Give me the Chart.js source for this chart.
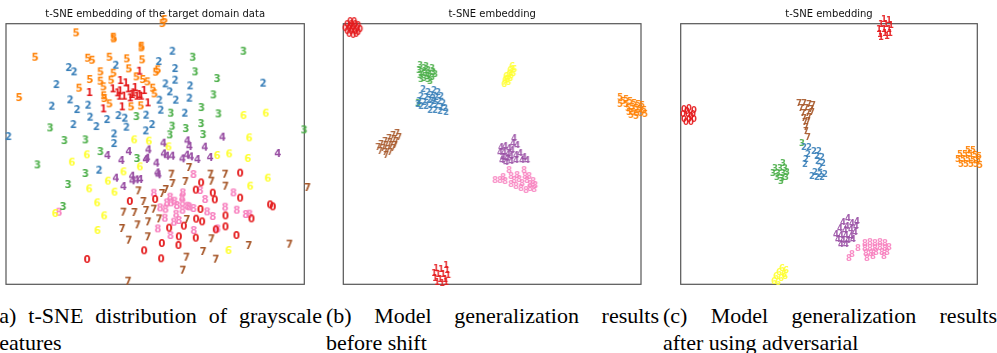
<!DOCTYPE html>
<html><head><meta charset="utf-8">
<script src="https://cdn.jsdelivr.net/npm/chart.js@4/dist/chart.umd.min.js"></script>
<style>
html,body{margin:0;padding:0;background:#fff;width:997px;height:353px;overflow:hidden;position:relative}
canvas{position:absolute;top:0}
.cap{position:absolute;top:302px;font-family:"Liberation Serif","Times New Roman",serif;font-size:22px;line-height:27px;color:#000}
.l1{text-align:justify;text-align-last:justify}
</style></head><body>
<canvas id="pa" width="330" height="300" style="left:0px"></canvas>
<canvas id="pb" width="330" height="300" style="left:330px"></canvas>
<canvas id="pc" width="332" height="300" style="left:665px"></canvas>
<div class="cap" style="left:-8px;width:330px"><div class="l1">(a) t-SNE distribution of grayscale</div><div>features</div></div>
<div class="cap" style="left:326px;width:333px"><div class="l1">(b) Model generalization results</div><div>before shift</div></div>
<div class="cap" style="left:663px;width:334px"><div class="l1">(c) Model generalization results</div><div>after using adversarial</div></div>
<script>
// ---- Titles ----
const TITLE_A = "t-SNE embedding of the target domain data";
const TITLE_B = "t-SNE embedding";
const TITLE_C = "t-SNE embedding";
// Set1 colours per digit class 0..8
const DIGIT_COLORS = ["#e41a1c","#e41a1c","#377eb8","#4daf4a","#984ea3","#ff7f00","#ffff33","#a65628","#f781bf"];

// ---- Panel (a): target domain features, per digit [x, y] ----
const A0 = [[25.5,-5.9],[13.8,-8.8],[12.2,-11.0],[17.3,-11.9],[25.5,-13.4],[-7.6,-14.4],[0.0,-13.8],[17.9,-13.9],[13.6,-16.8],[34.5,-15.4],[35.3,-16.0],[12.3,-19.7],[14.1,-20.5],[21.1,-18.7],[28.9,-19.6],[4.2,-22.4],[8.6,-21.8],[18.2,-22.9],[21.1,-22.0],[7.1,-25.0],[12.2,-25.4],[24.4,-24.6],[2.0,-27.0],[7.0,-27.6],[-3.3,-29.2],[-20.4,-31.8],[1.8,-31.6]];
const A1 = [[-4.7,24.7],[-10.4,21.9],[-8.8,21.2],[-12.7,19.4],[-10.5,18.8],[-8.1,19.4],[-6.0,19.8],[-3.3,18.9],[-19.7,18.3],[-10.7,17.2],[-9.3,17.2],[-7.5,16.7],[-6.5,18.2],[-5.5,17.2],[-4.7,17.7],[-15.5,13.4],[-9.9,14.0],[-2.2,15.2],[-7.0,17.7],[-4.2,17.2],[-11.3,18.2]];
const A2 = [[5.2,30.7],[1.1,27.6],[-11.8,26.5],[-25.9,25.8],[-24.3,24.5],[6.0,25.5],[3.1,20.9],[6.0,22.0],[-29.6,20.7],[10.5,20.3],[32.4,21.1],[4.4,18.5],[-25.5,16.1],[1.3,16.0],[6.2,16.0],[10.3,16.6],[-31.0,14.2],[-20.1,14.5],[-23.4,13.2],[1.7,13.0],[8.9,12.1],[-19.5,10.9],[-14.4,10.2],[-11.0,11.4],[-9.1,10.6],[-2.7,11.5],[-24.5,8.7],[-17.6,8.1],[-8.6,7.9],[-0.9,8.7],[-2.8,6.8],[-44.0,5.1],[-12.3,5.9],[-12.3,3.0],[-16.8,-5.0]];
const A3 = [[26.5,30.7],[11.3,28.9],[12.0,24.5],[18.6,22.5],[17.5,17.6],[4.7,12.1],[13.9,13.8],[19.0,11.9],[-5.6,11.1],[5.1,8.2],[9.2,7.5],[13.8,9.0],[-31.5,7.7],[44.7,7.1],[-27.2,3.9],[-20.9,4.1],[4.4,5.6],[14.4,5.7],[-16.4,0.6],[-35.3,-3.4],[-5.4,-1.5],[-20.9,-6.0],[-26.1,-9.3],[-27.6,-15.9]];
const A4 = [[2.5,3.1],[9.7,3.8],[20.2,4.9],[10.3,2.1],[14.9,1.9],[-14.3,-0.6],[-7.9,0.6],[-2.0,1.1],[2.6,-0.1],[3.5,-0.8],[5.1,-0.8],[8.2,-1.6],[9.5,-0.5],[10.7,-1.0],[12.7,-1.8],[16.5,-1.2],[36.8,0.0],[-10.1,-2.1],[-2.8,-1.8],[-2.4,-1.4],[0.4,-2.9],[0.7,-5.8],[1.0,-6.4],[-11.8,-7.4],[-6.9,-6.8],[-6.8,-8.2],[-5.6,-7.9],[-4.5,-7.8],[-9.5,-9.9]];
const A5 = [[2.2,39.0],[2.8,40.2],[-23.7,36.2],[-12.5,34.9],[-12.4,34.4],[-4.1,32.2],[-4.1,31.7],[-36.0,28.9],[-20.2,28.6],[-18.9,28.0],[-13.7,28.9],[-8.5,28.4],[-3.9,28.1],[-16.4,24.5],[-12.5,24.1],[-7.9,25.4],[0.2,24.4],[0.8,25.1],[-19.6,22.2],[-16.4,21.7],[-13.2,22.0],[-5.6,23.0],[-3.7,22.2],[-2.3,21.5],[-22.8,19.6],[-15.5,20.0],[-0.7,19.6],[-40.8,16.8],[-15.4,17.3],[-15.2,16.5],[-0.2,17.9],[-13.7,14.9],[-7.2,14.0],[-4.3,14.3]];
const A6 = [[26.5,11.4],[33.2,12.1],[-6.3,4.1],[-1.9,3.7],[28.2,4.7],[4.0,2.0],[-20.5,-0.4],[18.6,-0.6],[22.2,-0.1],[27.8,-1.5],[-25.0,-2.6],[-4.6,-4.0],[-9.5,-5.5],[33.8,-7.4],[-14.2,-8.3],[28.5,-9.8],[-19.8,-10.6],[-12.2,-11.6],[-17.4,-14.8],[-30.0,-18.0],[-15.3,-18.7],[-17.3,-23.1],[22.0,-29.1]];
const A7 = [[10.2,-4.2],[4.9,-6.2],[16.6,-6.2],[21.0,-6.2],[5.2,-9.0],[9.1,-8.4],[16.9,-8.3],[-5.0,-11.2],[2.1,-12.0],[3.2,-10.8],[21.1,-9.8],[45.7,-10.2],[-3.5,-14.4],[-9.5,-17.6],[-6.2,-17.7],[-2.7,-17.1],[-0.4,-16.7],[1.2,-19.6],[9.5,-19.8],[-9.9,-22.5],[-5.3,-21.4],[-2.1,-20.5],[-7.9,-26.0],[-2.2,-25.0],[16.9,-25.6],[28.1,-27.6],[40.3,-27.2],[14.4,-29.4],[9.4,-31.1],[18.2,-31.7],[8.3,-35.0],[-8.1,-38.3]];
const A8 = [[11.5,-6.3],[-0.4,-11.9],[8.3,-11.8],[13.5,-11.1],[23.5,-11.8],[4.5,-13.1],[3.5,-14.8],[4.7,-14.8],[5.8,-14.3],[8.1,-13.3],[8.2,-14.8],[15.0,-13.8],[-28.9,-17.6],[1.5,-16.3],[3.1,-16.7],[6.5,-15.6],[8.2,-17.0],[9.7,-15.8],[10.2,-16.0],[11.5,-16.5],[15.6,-17.5],[21.0,-16.1],[24.5,-17.0],[2.9,-19.4],[6.3,-18.2],[7.1,-20.1],[5.6,-20.6],[17.3,-18.9],[27.2,-18.3],[28.3,-18.2],[0.8,-22.6],[11.6,-23.1],[18.7,-22.6],[4.6,-24.6]];

// ---- Panel (b): before shift ----
const B0 = [[-71,66.5],[-69,66.5],[-72.5,65],[-70.5,65],[-68.5,65],[-67,64.5],[-73.5,63],[-71.5,63],[-69.5,63.5],[-67.5,63],[-66,62.5],[-72.5,61.5],[-70.5,61.5],[-68.5,61.5],[-67,61],[-71.5,60],[-69.5,59.5],[-68,60],[-70,62.5],[-71,64]];
const B1 = [[-23,-55.5],[-28,-57],[-25.5,-57.5],[-22.5,-58],[-29,-59.5],[-27,-60],[-24.5,-60],[-22,-60.5],[-28.5,-62],[-26,-62.5],[-23.5,-62.5],[-27.5,-64],[-25,-64.5],[-23,-64]];
const B2 = [[-34.5,32.5],[-32,31],[-29,32],[-27,31],[-35.5,29],[-33,28.5],[-30.5,29.5],[-28,28.5],[-25.5,29],[-36.5,26.5],[-34,26],[-31.5,27],[-29,26.5],[-26.5,26.5],[-24.5,25.5],[-35.5,24],[-33,24],[-30.5,24.5],[-28,24.5],[-25.5,23.5],[-23.5,23],[-31,22],[-28.5,22],[-26,21.5],[-23,21],[-37,25],[-29.5,28]];
const B3 = [[-36,44.5],[-36.5,42],[-36,39.5],[-35.5,37.5],[-34,43],[-33.5,40.5],[-34,38],[-32,42],[-31.5,40],[-32,37.5],[-30,43],[-29.5,41],[-30,38.5],[-31,36.5],[-33,44],[-35,41],[-28.5,40],[-32.5,39],[-37,25.5]];
const B4 = [[11,8],[10.5,5.5],[12.5,4.5],[4.5,3.5],[6.5,4],[8.5,3],[10,2],[4,1],[6,1],[8,0],[5.5,-1.5],[7.5,-2],[9.5,-1],[12,-0.5],[14,0.5],[16,-1.5],[17.5,-3],[15,-3],[9.5,-3.5],[7,-4],[12,-3],[5,-3]];
const B5 = [[64,28.5],[65.5,26.5],[64,25],[67,25],[69,26.5],[71,25.5],[73,25],[75,24.5],[68,23],[70,23.5],[72,23],[74,22.5],[76,22],[68.5,21],[70.5,21],[72.5,20.5],[74.5,20.5],[76.5,20],[69.5,19.5],[72,19],[67,27.5]];
const B6 = [[10,44],[11,42.5],[9,42],[10.5,40.5],[8.5,40],[7,39],[9,38],[6.5,37],[8,36],[6,35],[9.5,39.5],[7.5,37.5]];
const B7 = [[-47.5,10.5],[-49.5,9.5],[-46.5,8.5],[-51.5,8],[-49,7.5],[-53.5,6.5],[-51,6],[-48,6.5],[-55.5,5],[-53,4.5],[-50.5,4.5],[-48.5,4.5],[-57,3.5],[-54.5,3],[-52,2.5],[-49.5,3],[-56,1.5],[-53.5,1],[-51,1],[-53,-0.5]];
const B8 = [[1.5,-13],[4,-13],[6.5,-13.5],[8.5,-8],[9.5,-11],[11,-13],[12.5,-10.5],[13.5,-12.5],[15,-14.5],[16,-8],[16.5,-11],[17.5,-13],[19,-15],[20.5,-13.5],[21.5,-15.5],[19,-17],[17,-18],[14.5,-17],[9.5,-15],[12,-16],[18.5,-11],[21,-17.5],[5.5,-11.5]];

// ---- Panel (c): after adversarial training ----
const C0 = [[-72.5,22.5],[-70,23],[-67.5,22],[-73,20],[-70.5,20],[-68,20],[-72.5,17.5],[-70,17.5],[-67.5,17.5],[-71.5,16],[-69,16],[-71,21.5],[-69,19]];
const C1 = [[27.5,67.5],[30,67],[26,65],[28.5,65],[31,64.5],[25,62.5],[27.5,62.5],[30,62.5],[25.5,60],[28,60.5],[30.5,60.5],[26,58.5],[29,59]];
const C2 = [[-12.5,3.5],[-10,3.5],[-7.5,1.5],[-5,1.5],[-10.5,0],[-6,-1],[-3.5,-1.5],[-11.5,-2.5],[-5.5,-3.5],[-3,-4.5],[-12,-5],[-4.5,-6.5],[-7,-9],[-4.5,-10],[-2,-10],[-6,-11.5],[-3.5,-11.5],[-8.5,-11]];
const C3 = [[-23,-4.5],[-27,-7],[-24.5,-7],[-22,-7],[-28,-9.5],[-25.5,-9.5],[-23,-9.5],[-21,-9],[-26,-11.5],[-23.5,-12],[-21.5,-11.5],[-24,-13.5],[-13.5,5.5]];
const C4 = [[9.5,-32],[14,-33.5],[7,-34],[11.5,-34.5],[9,-36],[13.5,-36],[5.5,-37],[8,-38],[11,-37.5],[13,-39],[3.5,-40],[6,-40.5],[8.5,-40.5],[11,-41],[4.5,-42.5],[7,-43],[9.5,-43],[12,-42.5],[8.5,-45],[6,-45]];
const C5 = [[69.5,2],[72,2],[65.5,0],[68,0],[70.5,0],[73,-0.5],[75,-1],[64.5,-2.5],[67,-2.5],[69.5,-2.5],[72,-3],[74.5,-3],[66,-5],[68.5,-5],[71,-5],[73.5,-5],[75.5,-5.5]];
const C6 = [[-23.5,-57],[-21.5,-58],[-25,-59],[-22.5,-60],[-26.5,-61],[-24,-62],[-27.5,-63.5],[-25.5,-64],[-22,-61]];
const C7 = [[-15,25.5],[-12.5,25.5],[-10,25],[-8,24.5],[-14,23],[-11.5,23],[-9,22.5],[-13,20.5],[-10.5,20.5],[-8.5,21],[-12.5,18],[-10,18.5],[-12,16],[-10.5,16.5],[-11.5,13.5],[-11.5,11.5],[-10.5,8.5]];
const C8 = [[10,-52],[11.5,-50],[14.5,-47],[18,-44.5],[20.5,-44],[23,-44.5],[25.5,-44],[28,-44.5],[18,-47],[20.5,-47],[23,-47],[25.5,-46.5],[28,-47],[30,-46.5],[18.5,-49.5],[21,-49.5],[23.5,-49],[26.5,-49],[29,-49],[19,-52],[27.5,-51],[22,-51]];

const RANGE_A = {x:[-44.75,44.75], y:[-39.1,39.1]};
const RANGE_B = {x:[-74.45,74.45], y:[-65.15,65.15]};
const RANGE_C = {x:[-74.15,74.15], y:[-65.15,65.15]};

function glyph(ch, color, size, alpha){
  const c = document.createElement('canvas');
  c.width = 16; c.height = 16;
  const g = c.getContext('2d');
  g.globalAlpha = alpha;
  g.font = 'bold ' + size + 'px "DejaVu Sans"';
  g.fillStyle = color; g.textAlign = 'center'; g.textBaseline = 'middle';
  g.fillText(ch, 8, 8.5);
  return c;
}

const framePlugin = {
  id: 'frame',
  beforeDatasetsDraw(chart){
    const {ctx, chartArea:a} = chart;
    ctx.save(); ctx.strokeStyle = '#555'; ctx.lineWidth = 1.2;
    ctx.strokeRect(a.left, a.top, a.right - a.left, a.bottom - a.top);
    ctx.restore();
  }
};

function makePanel(id, title, groups, range, pad, size, alpha){
  const datasets = groups.map(([digit, pts]) => ({
    label: String(digit),
    data: pts.map(p => ({x:p[0], y:p[1]})),
    pointStyle: glyph(String(digit), DIGIT_COLORS[digit], size, alpha),
    pointRadius: 12, pointHoverRadius: 12, showLine: false, clip: false
  }));
  new Chart(document.getElementById(id), {
    type: 'scatter',
    data: {datasets},
    options: {
      responsive: false, animation: false, events: [],
      layout: {autoPadding: false, padding: {left: pad[0], right: pad[1], top: 0, bottom: 15.7}},
      plugins: {
        legend: {display: false}, tooltip: {enabled: false},
        title: {display: true, text: title, color: '#111',
          font: {family: '"DejaVu Sans"', size: 10, weight: 'normal', lineHeight: 1.2},
          padding: {top: 8.3, bottom: 3.4}}
      },
      scales: {
        x: {type: 'linear', display: false, min: range.x[0], max: range.x[1]},
        y: {type: 'linear', display: false, min: range.y[0], max: range.y[1]}
      }
    },
    plugins: [framePlugin]
  });
}

makePanel('pa', TITLE_A, [[0,A0],[1,A1],[2,A2],[3,A3],[4,A4],[5,A5],[6,A6],[7,A7],[8,A8]], RANGE_A, [6, 25.7], 10, 1);
makePanel('pb', TITLE_B, [[0,B0],[1,B1],[2,B2],[3,B3],[4,B4],[5,B5],[6,B6],[7,B7],[8,B8]], RANGE_B, [13.3, 19], 8.5, 0.9);
makePanel('pc', TITLE_C, [[0,C0],[1,C1],[2,C2],[3,C3],[4,C4],[5,C5],[6,C6],[7,C7],[8,C8]], RANGE_C, [15.7, 19.7], 8.5, 0.9);
</script>
</body></html>
